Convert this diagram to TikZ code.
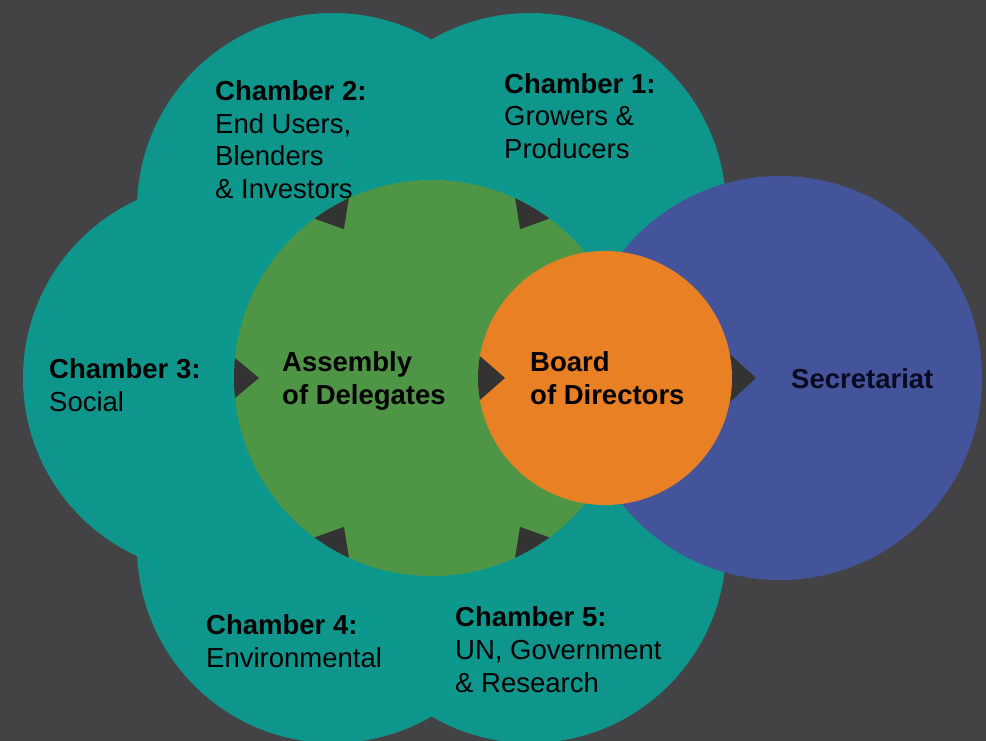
\documentclass[tikz,border=0pt]{standalone}
\usepackage{fontspec}
\setmainfont{Liberation Sans}
\usetikzlibrary{calc}
\definecolor{bgc}{HTML}{434244}
\definecolor{tealc}{HTML}{0D998F}
\definecolor{greenc}{HTML}{4E9645}
\definecolor{orangec}{HTML}{E98023}
\definecolor{bluec}{HTML}{44549A}
\definecolor{tric}{HTML}{333333}
\definecolor{navytext}{HTML}{0A0A22}
\begin{document}
\begin{tikzpicture}[x=1pt,y=-1pt,
  lbl/.style={anchor=base west, inner sep=0pt, align=left, text=black,
    font={\fontsize{27.5}{33}\selectfont}},
  lblb/.style={lbl, font={\fontsize{27.5}{33}\selectfont\bfseries}},
  chamberdisc/.style={fill=tealc, fill opacity=0.97},
  arrowtri/.style={fill=tric}]
\useasboundingbox (0,0) rectangle (986,741);
\clip (0,0) rectangle (986,741);
\fill[bgc] (0,0) rectangle (986,741);
% centres
\coordinate (G) at (432,378);
\coordinate (C1) at (530,209);
\coordinate (C2) at (333,209);
\coordinate (C3) at (219,378);
\coordinate (C4) at (333,547);
\coordinate (C5) at (530,547);
\coordinate (O) at (605,378);
\coordinate (S) at (780,378);
% chambers
\foreach \c in {C1,C2,C3,C4,C5}{\fill[chamberdisc] (\c) circle (196);}
% secretariat
\fill[bluec] (S) circle (202);
\fill[arrowtri] ($(O)+(115,-33)$) -- ($(O)+(115,33)$) -- ($(O)+(151,0)$) -- cycle;
% assembly
\fill[greenc] (G) circle (198);
\begin{scope}
  \clip (G) circle (198);
  \foreach \a in {-59.4,-120.6,180,120.6,59.4}{
    \fill[arrowtri] ($(G)+({\a-6.8}:203.4)$) -- ($(G)+({\a+6.8}:203.4)$) -- ($(G)+(\a:173)$) -- cycle;
  }
\end{scope}
% board
\fill[orangec] (O) circle (127);
\begin{scope}
  \clip (O) circle (127);
  \fill[arrowtri] ($(O)+(-140,-35)$) -- ($(O)+(-140,35)$) -- ($(O)+(-100,0)$) -- cycle;
\end{scope}
% texts (base anchor = baseline of last line)
\node[lbl] (t2) at (215,199) {\textbf{Chamber 2:}\\End Users,\\Blenders\\\& Investors};
\node[lbl] (t1) at (504,159) {\textbf{Chamber 1:}\\Growers \&\\Producers};
\node[lbl] (t3) at (49,411) {\textbf{Chamber 3:}\\Social};
\node[lbl] (t4) at (206,667) {\textbf{Chamber 4:}\\Environmental};
\node[lbl] (t5) at (455,692) {\textbf{Chamber 5:}\\UN, Government\\\& Research};
\node[lblb] (ta) at (282,404) {Assembly\\of Delegates};
\node[lblb] (tb) at (530,404) {Board\\of Directors};
\node[lblb, text=navytext] (ts) at (791,388) {Secretariat};
\end{tikzpicture}
\end{document}
